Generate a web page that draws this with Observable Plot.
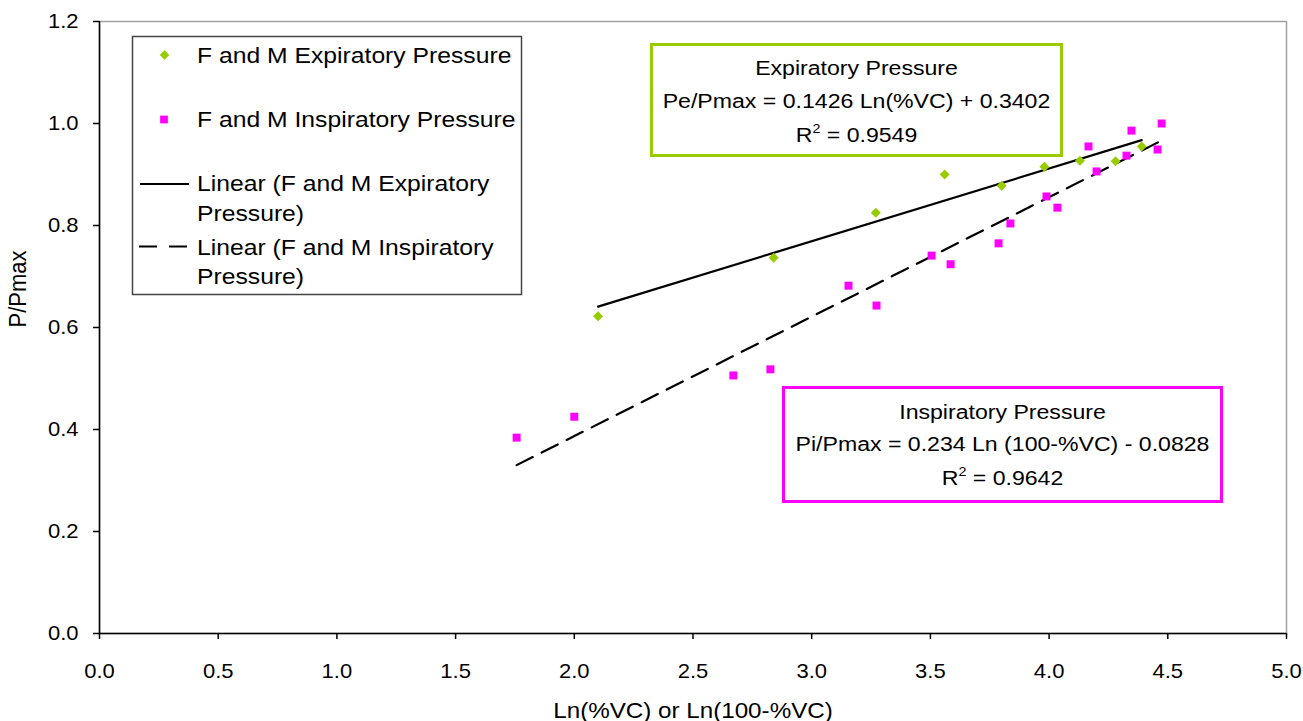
<!DOCTYPE html>
<html><head><meta charset="utf-8">
<script src="https://cdn.jsdelivr.net/npm/d3@7"></script>
<script src="https://cdn.jsdelivr.net/npm/@observablehq/plot@0.6"></script>
<style>
html,body{margin:0;padding:0;background:#fff;overflow:hidden;}
#chart{position:relative;width:1303px;height:721px;}
</style></head><body><div id="chart"></div>
<script>
// ---- data ----
const expX = [2.10, 2.84, 3.27, 3.56, 3.80, 3.98, 4.13, 4.28, 4.39];
const expY = [0.622, 0.737, 0.825, 0.900, 0.878, 0.915, 0.927, 0.926, 0.955];
const insX = [1.757, 2.00, 2.67, 2.826, 3.155, 3.273, 3.505, 3.585, 3.787, 3.837, 3.989, 4.035, 4.166, 4.20, 4.326, 4.347, 4.457, 4.474];
const insY = [0.384, 0.425, 0.506, 0.518, 0.682, 0.643, 0.741, 0.724, 0.765, 0.804, 0.857, 0.835, 0.955, 0.906, 0.937, 0.986, 0.949, 1.000];
const xTicks = [0, 0.5, 1, 1.5, 2, 2.5, 3, 3.5, 4, 4.5, 5];
const yTicks = [0, 0.2, 0.4, 0.6, 0.8, 1.0, 1.2];
const xTitle = "Ln(%VC) or Ln(100-%VC)";
const yTitle = "P/Pmax";
const legendLines = [
  ["F and M Expiratory Pressure"],
  ["F and M Inspiratory Pressure"],
  ["Linear (F and M Expiratory", "Pressure)"],
  ["Linear (F and M Inspiratory", "Pressure)"]
];
const expNote = ["Expiratory Pressure", "Pe/Pmax = 0.1426 Ln(%VC) + 0.3402", "0.9549"];
const insNote = ["Inspiratory Pressure", "Pi/Pmax = 0.234 Ln (100-%VC) - 0.0828", "0.9642"];

const GREEN = "#99cc00", MAGENTA = "#ff00ff";
const FONT = '"Liberation Sans", Arial, Helvetica, sans-serif';
const exp = expX.map((x, i) => ({x, y: expY[i]}));
const ins = insX.map((x, i) => ({x, y: insY[i]}));
const fmt = d => d.toFixed(1);

const plot = Plot.plot({
  width: 1303, height: 721,
  marginLeft: 99, marginRight: 17, marginTop: 21, marginBottom: 88,
  style: {fontFamily: FONT, background: "#fff", color: "#000", overflow: "visible"},
  x: {domain: [0, 5]},
  y: {domain: [0, 1.2]},
  marks: [
    Plot.frame({stroke: "#a0a0a0", strokeWidth: 1.5}),
    Plot.ruleX([0], {stroke: "#000", strokeWidth: 1.5}),
    Plot.ruleY([0], {stroke: "#000", strokeWidth: 1.5}),
    Plot.axisX({ticks: xTicks, tickSize: 6, tickPadding: 24, tickFormat: fmt, fontSize: 20, label: null, strokeWidth: 1.5}),
    Plot.axisY({ticks: yTicks, tickSize: 6, tickPadding: 15, tickFormat: fmt, fontSize: 20, label: null, strokeWidth: 1.5}),
    Plot.linearRegressionY(exp, {x: "x", y: "y", ci: 0, stroke: "#000", strokeWidth: 2.2}),
    Plot.linearRegressionY(ins, {x: "x", y: "y", ci: 0, stroke: "#000", strokeWidth: 2.2, strokeDasharray: "18,10"}),
    Plot.dot(exp, {x: "x", y: "y", symbol: "diamond2", r: 4.5, fill: GREEN, stroke: "none"}),
    Plot.dot(ins, {x: "x", y: "y", symbol: "square", r: 4.5, fill: MAGENTA, stroke: "none"}),
    Plot.text([xTitle], {text: d => d, frameAnchor: "bottom", dy: 84, lineAnchor: "bottom", fontSize: 22}),
    Plot.text([yTitle], {text: d => d, frameAnchor: "left", dx: -81, rotate: -90, fontSize: 22})
  ]
});

// horizontal stretch of the text, as in the reference rendering
plot.querySelectorAll("text").forEach(t => {
  let tr = t.getAttribute("transform");
  if (!tr) {
    const x = +t.getAttribute("x") || 0, y = +t.getAttribute("y") || 0;
    t.removeAttribute("x"); t.removeAttribute("y");
    tr = `translate(${x},${y})`;
  }
  t.setAttribute("transform", tr + (tr.includes("rotate") ? " scale(1,1.1)" : " scale(1.1,1)"));
});

// ---- legend and annotation boxes ----
const svg = d3.select(plot);
const ov = svg.append("g").attr("font-family", FONT).attr("fill", "#000");

function stext(g, x, y, str, size, anchor, sx) {
  return g.append("text").attr("transform", `translate(${x},${y}) scale(${sx},1)`)
    .attr("text-anchor", anchor).attr("font-size", size).text(str);
}

// legend
const lg = ov.append("g");
lg.append("rect").attr("x", 132.5).attr("y", 36.5).attr("width", 389).attr("height", 258)
  .attr("fill", "#fff").attr("stroke", "#444").attr("stroke-width", 1.5);
lg.append("path").attr("d", d3.symbol(d3.symbolDiamond2, 60)()).attr("transform", "translate(164.5,55)").attr("fill", GREEN);
lg.append("path").attr("d", d3.symbol(d3.symbolSquare, 60)()).attr("transform", "translate(164,119.5)").attr("fill", MAGENTA);
lg.append("line").attr("x1", 140).attr("x2", 189).attr("y1", 184).attr("y2", 184).attr("stroke", "#000").attr("stroke-width", 2.2);
lg.append("line").attr("x1", 139).attr("x2", 187).attr("y1", 246.5).attr("y2", 246.5).attr("stroke", "#000").attr("stroke-width", 2.2).attr("stroke-dasharray", "18,12");
const legBase = [[63], [127], [191, 220.5], [254.5, 284]];
legendLines.forEach((lines, i) => lines.forEach((s, j) => stext(lg, 197, legBase[i][j], s, 23, "start", 1.075)));

// annotation boxes
function note(g, box, color, lines, base, cx) {
  g.append("rect").attr("x", box[0]).attr("y", box[1]).attr("width", box[2]).attr("height", box[3])
    .attr("fill", "#fff").attr("stroke", color).attr("stroke-width", 3);
  stext(g, cx, base[0], lines[0], 21, "middle", 1.1);
  stext(g, cx, base[1], lines[1], 21, "middle", 1.1);
  const t = g.append("text").attr("transform", `translate(${cx},${base[2]}) scale(1.1,1)`)
    .attr("text-anchor", "middle").attr("font-size", 21);
  t.append("tspan").text("R");
  t.append("tspan").attr("font-size", 13).attr("dy", -9).text("2");
  t.append("tspan").attr("font-size", 21).attr("dy", 9).text(" = " + lines[2]);
}
note(ov.append("g"), [651.5, 44.5, 410, 111], GREEN, expNote, [75, 108, 141.5], 856.5);
note(ov.append("g"), [783.5, 387.5, 438, 114], MAGENTA, insNote, [419, 451, 485], 1002.5);

document.getElementById("chart").appendChild(plot);
</script>
</body></html>
